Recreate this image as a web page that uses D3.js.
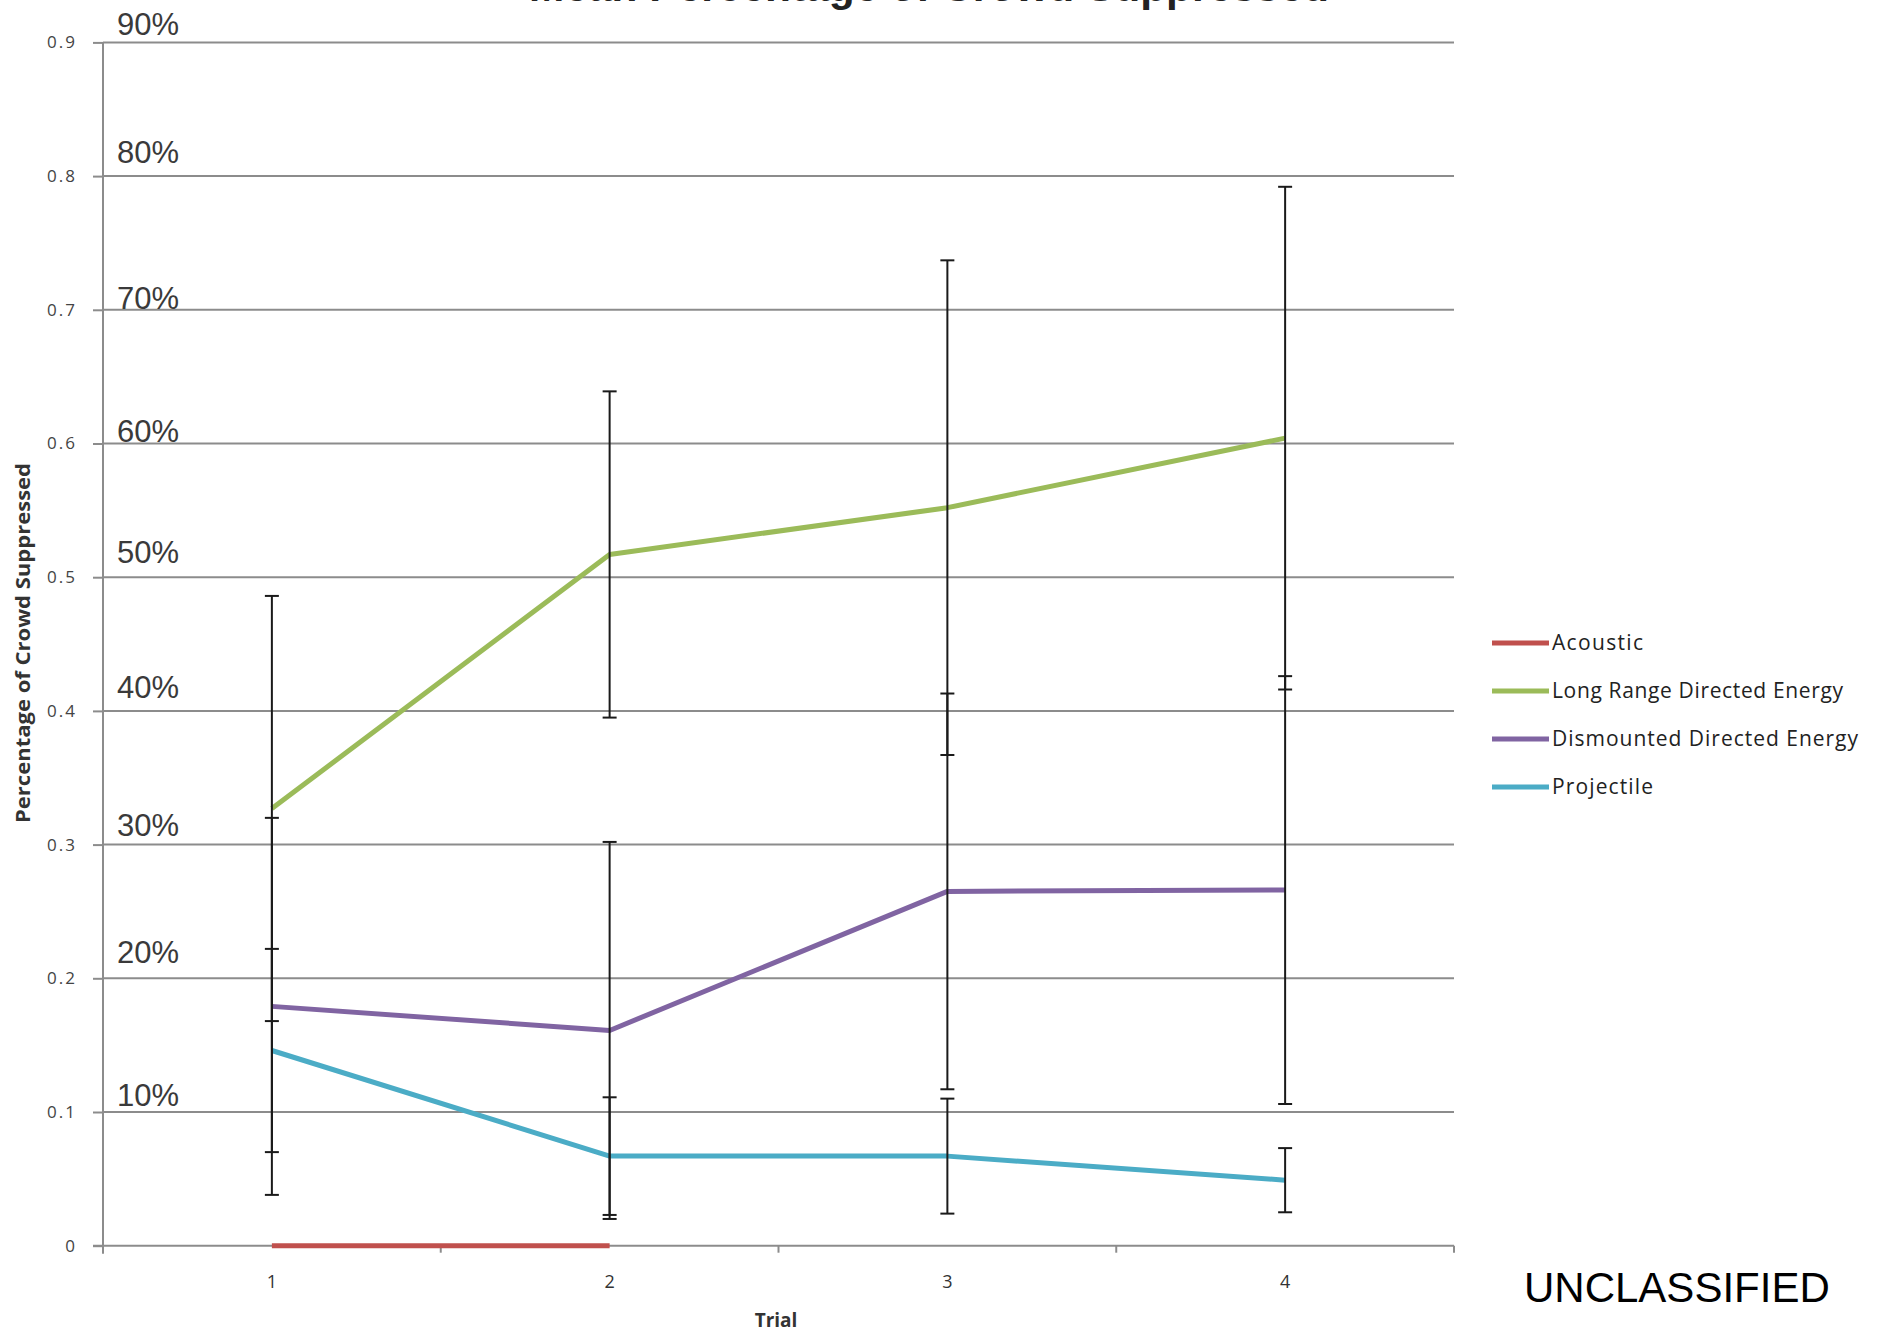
<!DOCTYPE html>
<html>
<head>
<meta charset="utf-8">
<script src="https://cdn.jsdelivr.net/npm/d3@7/dist/d3.min.js"></script>
<style>
  html, body { margin: 0; padding: 0; background: #ffffff; }
  svg { display: block; }
</style>
</head>
<body>
<svg id="chart" width="1887" height="1335"></svg>
<script>
// ---------------- DATA ----------------
const trials = [1, 2, 3, 4];
const yTicks = [0, 0.1, 0.2, 0.3, 0.4, 0.5, 0.6, 0.7, 0.8, 0.9];
const yTickLabels = ["0", "0.1", "0.2", "0.3", "0.4", "0.5", "0.6", "0.7", "0.8", "0.9"];
const percentLabels = ["10%", "20%", "30%", "40%", "50%", "60%", "70%", "80%", "90%"];
const percentValues = [0.1, 0.2, 0.3, 0.4, 0.5, 0.6, 0.7, 0.8, 0.9];

const seriesNames = ["Acoustic", "Long Range Directed Energy", "Dismounted Directed Energy", "Projectile"];
const acoustic = [0, 0, null, null];
const longRange = [0.327, 0.517, 0.552, 0.604];
const longRangeErr = [0.159, 0.122, 0.185, 0.188];
const dismounted = [0.179, 0.161, 0.265, 0.266];
const dismountedErr = [0.141, 0.141, 0.148, 0.160];
const projectile = [0.146, 0.067, 0.067, 0.049];
const projectileErr = [0.076, 0.044, 0.043, 0.024];

const chartTitle = "Mean Percentage of Crowd Suppressed";
const xTitle = "Trial";
const yTitle = "Percentage of Crowd Suppressed";
const footer = "UNCLASSIFIED";

// ---------------- STYLE / LAYOUT ----------------
const colors = ["#C0504D", "#9BBB59", "#8064A2", "#4BACC6"];
const plot = { left: 103, right: 1454, top: 42.4, bottom: 1245.7 };
// per-label vertical nudges for the hand-placed percent overlays (pixels)
const percentNudge = [-6, -15, -9, -13, -14, -2, -1, -13, -7];

const svg = d3.select("#chart");

const x = d3.scaleBand().domain(trials).range([plot.left, plot.right]).paddingInner(0).paddingOuter(0);
const xc = d => x(d) + x.bandwidth() / 2;
const y = d3.scaleLinear().domain([0, 0.9]).range([plot.bottom, plot.top]);

// Gridlines
svg.append("g")
  .selectAll("line")
  .data(yTicks.filter(v => v > 0))
  .join("line")
  .attr("x1", plot.left).attr("x2", plot.right)
  .attr("y1", d => y(d)).attr("y2", d => y(d))
  .attr("stroke", "#8c8c8c").attr("stroke-width", 2);

// Y axis
const yAxis = d3.axisLeft(y).tickValues(yTicks).tickSize(10).tickPadding(16)
  .tickFormat((d, i) => yTickLabels[i]);
const gy = svg.append("g").attr("transform", `translate(${plot.left},0)`).call(yAxis);
gy.select(".domain").attr("stroke", "#8c8c8c").attr("stroke-width", 2)
  .attr("d", `M0,${plot.top}V${plot.bottom + 8}`);
gy.selectAll(".tick line").attr("stroke", "#8c8c8c").attr("stroke-width", 2);
gy.selectAll(".tick text")
  .attr("font-family", "'Open Sans', sans-serif").attr("font-size", 17)
  .attr("letter-spacing", "2px").attr("fill", "#444");

// X axis
const xAxis = d3.axisBottom(x).tickSize(0).tickPadding(30);
const gx = svg.append("g").attr("transform", `translate(0,${plot.bottom})`).call(xAxis);
gx.select(".domain").attr("stroke", "#8c8c8c").attr("stroke-width", 2)
  .attr("d", `M${plot.left - 10},0H${plot.right}`);
gx.selectAll(".tick text")
  .attr("font-family", "'Open Sans', sans-serif").attr("font-size", 18).attr("fill", "#333");
// band-boundary ticks
const boundaries = trials.map(t => x(t)).concat([plot.right]);
gx.append("g").selectAll("line").data(boundaries).join("line")
  .attr("x1", d => d).attr("x2", d => d).attr("y1", 0).attr("y2", 7)
  .attr("stroke", "#8c8c8c").attr("stroke-width", 2);

// Percent overlays
svg.append("g").selectAll("text")
  .data(percentValues)
  .join("text")
  .attr("x", 117)
  .attr("y", (d, i) => y(d) + percentNudge[i])
  .attr("font-family", "'Liberation Sans', Arial, sans-serif")
  .attr("font-size", 31)
  .attr("fill", "#3a3a3a")
  .text((d, i) => percentLabels[i]);

// Series lines
const series = [acoustic, longRange, dismounted, projectile];
const errs = [null, longRangeErr, dismountedErr, projectileErr];
const line = d3.line()
  .defined(d => d.v !== null)
  .x(d => xc(d.t))
  .y(d => y(d.v));

svg.append("g").selectAll("path")
  .data(series)
  .join("path")
  .attr("d", s => line(s.map((v, i) => ({ t: trials[i], v }))))
  .attr("fill", "none")
  .attr("stroke", (d, i) => colors[i])
  .attr("stroke-width", 5)
  .attr("stroke-linejoin", "round");

// Error bars
const errData = [];
series.forEach((s, si) => {
  if (!errs[si]) return;
  s.forEach((v, i) => {
    if (v === null) return;
    errData.push({ t: trials[i], lo: v - errs[si][i], hi: v + errs[si][i] });
  });
});
const eg = svg.append("g").attr("stroke", "#1a1a1a").attr("stroke-width", 2);
eg.selectAll("line.v").data(errData).join("line").attr("class", "v")
  .attr("x1", d => xc(d.t)).attr("x2", d => xc(d.t))
  .attr("y1", d => y(d.lo)).attr("y2", d => y(d.hi));
eg.selectAll("line.hi").data(errData).join("line").attr("class", "hi")
  .attr("x1", d => xc(d.t) - 7).attr("x2", d => xc(d.t) + 7)
  .attr("y1", d => y(d.hi)).attr("y2", d => y(d.hi));
eg.selectAll("line.lo").data(errData).join("line").attr("class", "lo")
  .attr("x1", d => xc(d.t) - 7).attr("x2", d => xc(d.t) + 7)
  .attr("y1", d => y(d.lo)).attr("y2", d => y(d.lo));

// Legend
const legendTextLengths = [91, 291, 306, 101];
const lg = svg.append("g");
const rowY = d3.scalePoint().domain(seriesNames).range([643, 787]);
lg.selectAll("line").data(seriesNames).join("line")
  .attr("x1", 1492).attr("x2", 1549)
  .attr("y1", d => rowY(d)).attr("y2", d => rowY(d))
  .attr("stroke", (d, i) => colors[i]).attr("stroke-width", 5);
lg.selectAll("text").data(seriesNames).join("text")
  .attr("x", 1552).attr("y", d => rowY(d))
  .attr("dy", "0.35em")
  .attr("font-family", "'Open Sans', sans-serif").attr("font-size", 21)
  .attr("fill", "#222")
  .attr("textLength", (d, i) => legendTextLengths[i])
  .attr("lengthAdjust", "spacing")
  .text(d => d);

// Axis titles
svg.append("text")
  .attr("x", 776).attr("y", 1320).attr("dy", "0.35em")
  .attr("text-anchor", "middle")
  .attr("font-family", "'Open Sans', sans-serif").attr("font-weight", "bold")
  .attr("font-size", 19).attr("fill", "#333")
  .text(xTitle);

svg.append("text")
  .attr("transform", "translate(23,643) rotate(-90)")
  .attr("dy", "0.35em")
  .attr("text-anchor", "middle")
  .attr("font-family", "'Open Sans', sans-serif").attr("font-weight", "bold")
  .attr("font-size", 19).attr("fill", "#333")
  .attr("textLength", 360).attr("lengthAdjust", "spacingAndGlyphs")
  .text(yTitle);

// Chart title (cut off at top edge in reference)
svg.append("text")
  .attr("x", 929).attr("y", 1)
  .attr("text-anchor", "middle")
  .attr("font-family", "'Liberation Sans', Arial, sans-serif").attr("font-weight", "bold")
  .attr("font-size", 42).attr("fill", "#222")
  .attr("textLength", 800).attr("lengthAdjust", "spacingAndGlyphs")
  .text(chartTitle);

// Footer marking
svg.append("text")
  .attr("x", 1524).attr("y", 1302)
  .attr("font-family", "'Liberation Sans', Arial, sans-serif")
  .attr("font-size", 42).attr("fill", "#000")
  .text(footer);
</script>
</body>
</html>
